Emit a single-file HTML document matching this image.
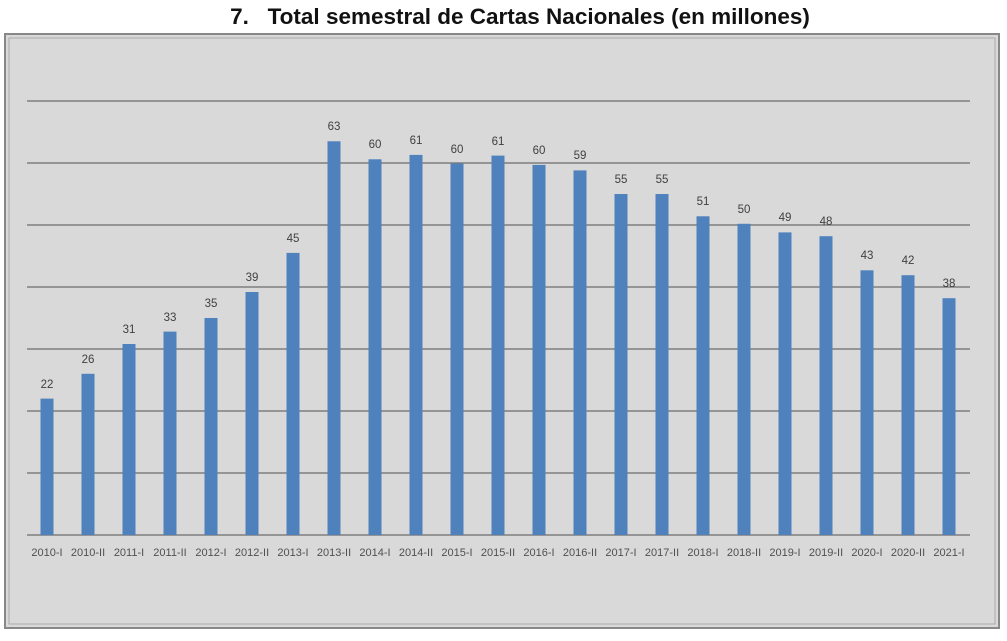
<!DOCTYPE html><html><head><meta charset="utf-8"><style>body{margin:0;background:#fff;width:1007px;height:636px;overflow:hidden}</style></head><body>
<svg width="1007" height="636" xmlns="http://www.w3.org/2000/svg" font-family="Liberation Sans, sans-serif">
<text x="520" y="24" text-anchor="middle" font-size="22.5" font-weight="bold" fill="#111" xml:space="preserve" style="white-space:pre">7.   Total semestral de Cartas Nacionales (en millones)</text>
<rect x="5" y="34" width="994" height="594" fill="#d9d9d9" stroke="#888" stroke-width="2"/>
<rect x="9" y="38" width="986" height="586" fill="none" stroke="#aaa" stroke-width="1"/>
<g stroke="#6d6d6d" stroke-width="1.3">
<line x1="27" x2="970" y1="101" y2="101"/><line x1="27" x2="970" y1="163" y2="163"/><line x1="27" x2="970" y1="225" y2="225"/><line x1="27" x2="970" y1="287" y2="287"/><line x1="27" x2="970" y1="349" y2="349"/><line x1="27" x2="970" y1="411" y2="411"/><line x1="27" x2="970" y1="473" y2="473"/><line x1="27" x2="970" y1="535" y2="535"/>
</g>
<g fill="#4f81bd">
<rect x="40.5" y="398.6" width="13" height="136.4"/>
<rect x="81.5" y="373.8" width="13" height="161.2"/>
<rect x="122.5" y="344" width="13" height="191"/>
<rect x="163.5" y="331.6" width="13" height="203.4"/>
<rect x="204.5" y="318" width="13" height="217"/>
<rect x="245.5" y="292" width="13" height="243"/>
<rect x="286.5" y="252.9" width="13" height="282.1"/>
<rect x="327.5" y="141.3" width="13" height="393.7"/>
<rect x="368.5" y="159.3" width="13" height="375.7"/>
<rect x="409.5" y="154.9" width="13" height="380.1"/>
<rect x="450.5" y="163.6" width="13" height="371.4"/>
<rect x="491.5" y="155.6" width="13" height="379.4"/>
<rect x="532.5" y="164.9" width="13" height="370.1"/>
<rect x="573.5" y="170.4" width="13" height="364.6"/>
<rect x="614.5" y="194" width="13" height="341"/>
<rect x="655.5" y="194" width="13" height="341"/>
<rect x="696.5" y="216.3" width="13" height="318.7"/>
<rect x="737.5" y="223.8" width="13" height="311.2"/>
<rect x="778.5" y="232.4" width="13" height="302.6"/>
<rect x="819.5" y="236.2" width="13" height="298.8"/>
<rect x="860.5" y="270.3" width="13" height="264.7"/>
<rect x="901.5" y="275.2" width="13" height="259.8"/>
<rect x="942.5" y="298.2" width="13" height="236.8"/>
</g>
<g font-size="11.5" fill="#404040" text-anchor="middle">
<text x="47" y="388">22</text><text x="88" y="363">26</text><text x="129" y="333">31</text><text x="170" y="321">33</text><text x="211" y="307">35</text><text x="252" y="281">39</text><text x="293" y="242">45</text><text x="334" y="130">63</text><text x="375" y="148">60</text><text x="416" y="144">61</text><text x="457" y="153">60</text><text x="498" y="145">61</text><text x="539" y="154">60</text><text x="580" y="159">59</text><text x="621" y="183">55</text><text x="662" y="183">55</text><text x="703" y="205">51</text><text x="744" y="213">50</text><text x="785" y="221">49</text><text x="826" y="225">48</text><text x="867" y="259">43</text><text x="908" y="264">42</text><text x="949" y="287">38</text>
</g>
<g font-size="11" fill="#505050" text-anchor="middle">
<text x="47" y="556">2010-I</text><text x="88" y="556">2010-II</text><text x="129" y="556">2011-I</text><text x="170" y="556">2011-II</text><text x="211" y="556">2012-I</text><text x="252" y="556">2012-II</text><text x="293" y="556">2013-I</text><text x="334" y="556">2013-II</text><text x="375" y="556">2014-I</text><text x="416" y="556">2014-II</text><text x="457" y="556">2015-I</text><text x="498" y="556">2015-II</text><text x="539" y="556">2016-I</text><text x="580" y="556">2016-II</text><text x="621" y="556">2017-I</text><text x="662" y="556">2017-II</text><text x="703" y="556">2018-I</text><text x="744" y="556">2018-II</text><text x="785" y="556">2019-I</text><text x="826" y="556">2019-II</text><text x="867" y="556">2020-I</text><text x="908" y="556">2020-II</text><text x="949" y="556">2021-I</text>
</g>
</svg></body></html>
